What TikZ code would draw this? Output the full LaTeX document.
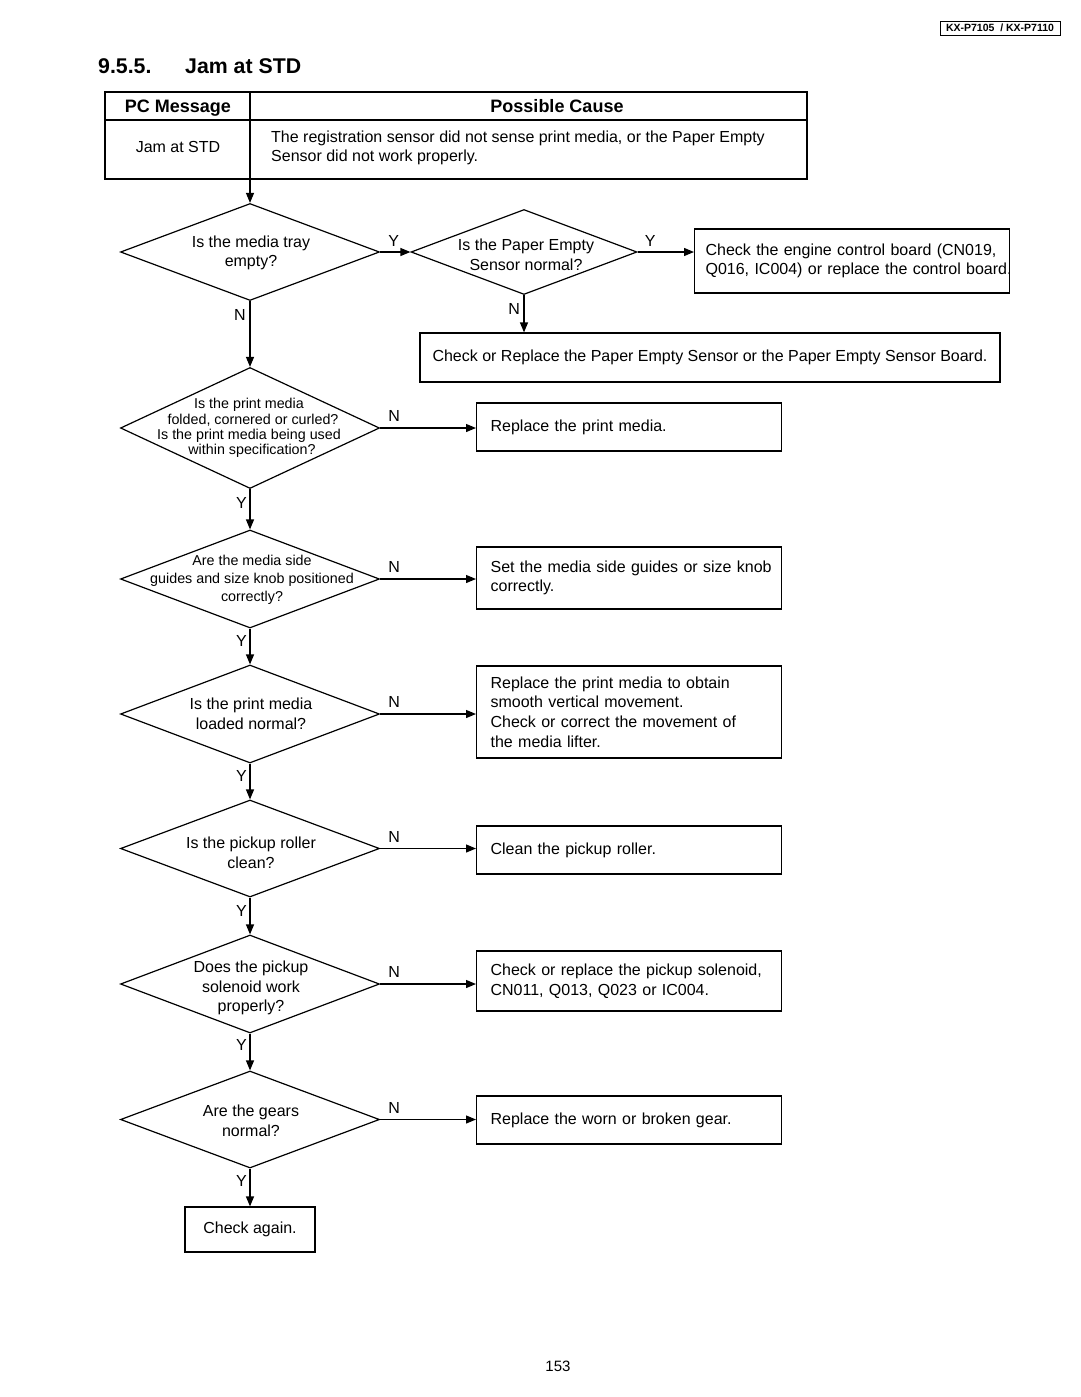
\documentclass[tikz,border=0pt]{standalone}
\usepackage{fontspec}
\setmainfont{Liberation Sans}
\usetikzlibrary{shapes.geometric,arrows.meta}
\begin{document}
\begin{tikzpicture}[x=1pt,y=-1pt,
  every node/.style={font=\fontsize{16}{19.6}\selectfont, inner sep=0pt},
  small/.style={font=\fontsize{14.3}{15.4}\selectfont},
  smallb/.style={font=\fontsize{14.3}{18}\selectfont},
  dia/.style={diamond, draw, line width=1.2pt, inner sep=0pt, minimum width=259pt, minimum height=97pt},
  dtext/.style={align=center, inner sep=0pt},
  sbox/.style={draw, line width=1.2pt, anchor=west, minimum width=305pt, text width=277pt, inner xsep=14pt, inner ysep=0pt, align=left},
  lbl/.style={inner sep=0pt},
  arr/.style={line width=1.2pt, -{Triangle[length=10pt,width=8pt]}},
  tline/.style={line width=1.2pt},
]
\useasboundingbox (0,0) rectangle (1080,1397);

% header
\node[draw, line width=0.9pt, font=\fontsize{10.5}{12}\bfseries, inner xsep=3pt, minimum height=14pt, minimum width=120pt] (hdr) at (1000,28) {KX-P7105~~/ KX-P7110};

% title
\node[anchor=base west, font=\fontsize{21.3}{24}\bfseries] (tnum) at (98,74) {9.5.5.};
\node[anchor=base west, font=\fontsize{21.3}{24}\bfseries] (ttl) at (185,74) {Jam at STD};

% table
\draw[tline] (105,92) rectangle (807,179);
\draw[tline] (105,120) -- (807,120);
\draw[tline] (250,92) -- (250,179);
\node[anchor=base, font=\fontsize{18}{20}\bfseries] (h1) at (178,112.5) {PC Message};
\node[anchor=base, font=\fontsize{18}{20}\bfseries] (h2) at (557,112.5) {Possible Cause};
\node (m1) at (178,147) {Jam at STD};
\node[anchor=west, align=left] (c1) at (271,148) {The registration sensor did not sense print media, or the Paper Empty\\Sensor did not work properly.};
\coordinate (tb) at (250,179);

% diamonds
\node[dia] (d1) at (250,252) {};
\node[dtext] (t1) at (251,253) {Is the media tray\\empty?};
\node[dia, minimum width=226pt, minimum height=85pt] (d2) at (524,252) {};
\node[dtext] (t2) at (526,255) {Is the Paper Empty\\Sensor normal?};
\node[dia, minimum height=121pt] (d3) at (250,428) {};
\node[dtext, small] (t3) at (249,428) {Is the print media\\\hspace*{8pt}folded, cornered or curled?\\Is the print media being used\\\hspace*{6pt}within specification?};
\node[dia, minimum height=98pt] (d4) at (250,579) {};
\node[dtext, smallb] (t4) at (252,580) {Are the media side\\guides and size knob positioned\\correctly?};
\node[dia, minimum height=98pt] (d5) at (250,714) {};
\node[dtext] (t5) at (251,714) {Is the print media\\loaded normal?};
\node[dia] (d6) at (250,848.5) {};
\node[dtext] (t6) at (251,853) {Is the pickup roller\\clean?};
\node[dia, minimum height=98pt] (d7) at (250,984) {};
\node[dtext] (t7) at (251,988) {Does the pickup\\solenoid work\\properly?};
\node[dia] (d8) at (250,1119.5) {};
\node[dtext] (t8) at (251,1121) {Are the gears\\normal?};

% boxes
\node[sbox, minimum width=315pt, text width=293pt, inner xsep=11pt, minimum height=64pt] (ce) at (694,261) {\mbox{Check the engine control board (CN019,}\\\mbox{Q016, IC004) or replace the control board.}};
\node[draw, line width=1.2pt, minimum width=580pt, minimum height=49pt] (pes) at (710,357.5) {Check or Replace the Paper Empty Sensor or the Paper Empty Sensor Board.};
\node[sbox, minimum height=48pt] (b3) at (476,427) {Replace the print media.};
\node[sbox, minimum height=62pt] (b4) at (476,578) {\mbox{Set the media side guides or size knob}\\correctly.};
\node[sbox, minimum height=92pt] (b5) at (476,712) {Replace the print media to obtain\\smooth vertical movement.\\Check or correct the movement of\\the media lifter.};
\node[sbox, minimum height=48pt] (b6) at (476,850) {Clean the pickup roller.};
\node[sbox, minimum height=60pt] (b7) at (476,981) {\mbox{Check or replace the pickup solenoid,}\\CN011, Q013, Q023 or IC004.};
\node[sbox, minimum height=48pt] (b8) at (476,1120) {Replace the worn or broken gear.};
\node[draw, line width=1.2pt, minimum width=130pt, minimum height=45pt] (again) at (250,1229.5) {Check again.};

% connectors
\draw[arr] (tb) -- (d1.north);
\draw[arr] (d1.east) -- (d2.west);
\draw[arr] (d2.east) -- (d2.east -| ce.west);
\draw[arr] (d2.south) -- (d2.south |- pes.north);
\draw[arr] (d1.south) -- (d3.north);
\draw[arr] (d3.east) -- (d3.east -| b3.west);
\draw[arr] (d3.south) -- (d4.north);
\draw[arr] (d4.east) -- (d4.east -| b4.west);
\draw[arr] (d4.south) -- (d5.north);
\draw[arr] (d5.east) -- (d5.east -| b5.west);
\draw[arr] (d5.south) -- (d6.north);
\draw[arr] (d6.east) -- (d6.east -| b6.west);
\draw[arr] (d6.south) -- (d7.north);
\draw[arr] (d7.east) -- (d7.east -| b7.west);
\draw[arr] (d7.south) -- (d8.north);
\draw[arr] (d8.east) -- (d8.east -| b8.west);
\draw[arr] (d8.south) -- (again.north);

% labels
\node[lbl, anchor=south west] (l1) at ([xshift=8pt,yshift=5pt]d1.east) {Y};
\node[lbl, anchor=south west] (l2) at ([xshift=7pt,yshift=5pt]d2.east) {Y};
\node[lbl, anchor=east] (l3) at ([xshift=-4pt,yshift=-14pt]d1.south) {N};
\node[lbl, anchor=east] (l4) at ([xshift=-4pt,yshift=-14pt]d2.south) {N};
\node[lbl, anchor=south west] (l5) at ([xshift=8pt,yshift=6pt]d3.east) {N};
\node[lbl, anchor=east] (l6) at ([xshift=-3pt,yshift=-14pt]d3.south) {Y};
\node[lbl, anchor=south west] (l7) at ([xshift=8pt,yshift=6pt]d4.east) {N};
\node[lbl, anchor=east] (l8) at ([xshift=-3pt,yshift=-12pt]d4.south) {Y};
\node[lbl, anchor=south west] (l9) at ([xshift=8pt,yshift=6pt]d5.east) {N};
\node[lbl, anchor=east] (l10) at ([xshift=-3pt,yshift=-12pt]d5.south) {Y};
\node[lbl, anchor=south west] (l11) at ([xshift=8pt,yshift=6pt]d6.east) {N};
\node[lbl, anchor=east] (l12) at ([xshift=-3pt,yshift=-13pt]d6.south) {Y};
\node[lbl, anchor=south west] (l13) at ([xshift=8pt,yshift=6pt]d7.east) {N};
\node[lbl, anchor=east] (l14) at ([xshift=-3pt,yshift=-11pt]d7.south) {Y};
\node[lbl, anchor=south west] (l15) at ([xshift=8pt,yshift=6pt]d8.east) {N};
\node[lbl, anchor=east] (l16) at ([xshift=-3pt,yshift=-12pt]d8.south) {Y};

% page number
\node[font=\fontsize{15}{18}\selectfont] (pg) at (558,1366) {153};
\end{tikzpicture}
\end{document}
